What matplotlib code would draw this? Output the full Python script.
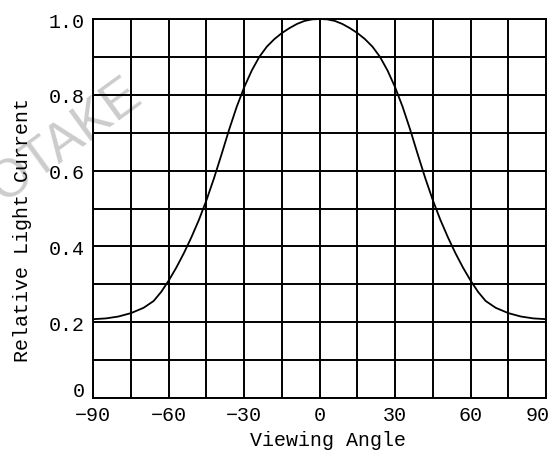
import numpy as np
import matplotlib.pyplot as plt
import matplotlib.transforms as mtransforms

# Curva de corriente relativa vs ángulo
angulo = [-90, -85, -80, -75, -70, -66, -63, -60, -57, -54, -51, -48, -45, -42,
          -39, -36, -33, -30, -27, -24, -21, -18, -15, -12, -9, -6, -3, 0,
          3, 6, 9, 12, 15, 18, 21, 24, 27, 30, 33, 36, 39, 42, 45, 48, 51,
          54, 57, 60, 63, 66, 70, 75, 80, 85, 90]
corriente = [0.208, 0.210, 0.215, 0.224, 0.238, 0.256, 0.280, 0.310, 0.344, 0.382,
             0.424, 0.470, 0.522, 0.580, 0.643, 0.708, 0.768, 0.820, 0.864, 0.900,
             0.927, 0.947, 0.963, 0.976, 0.987, 0.995, 0.999, 1.000,
             0.999, 0.995, 0.987, 0.976, 0.963, 0.947, 0.927, 0.900, 0.864, 0.820,
             0.768, 0.708, 0.643, 0.580, 0.522, 0.470, 0.424, 0.382, 0.344, 0.310,
             0.280, 0.256, 0.238, 0.224, 0.215, 0.210, 0.208]

xticks = [-90, -60, -30, 0, 30, 60, 90]
xlabels = ["\u221290", "\u221260", "\u221230", "0", "30", "60", "90"]
yticks = [0, 0.2, 0.4, 0.6, 0.8, 1.0]
ylabels = ["0", "0.2", "0.4", "0.6", "0.8", "1.0"]

fuente = "Liberation Mono"
tam = 14.4

fig = plt.figure(figsize=(5.57, 4.56), dpi=100)
ax = fig.add_axes([93.3 / 557, 1 - 399 / 456, (546 - 93.3) / 557, (399 - 20) / 456])
ax.patch.set_visible(False)

# marca de agua
fig.text(66 / 557, 1 - 141 / 456, "OTAKE", fontsize=38, color="#cccccc", rotation=36,
         ha="center", va="center", family="Liberation Sans", zorder=-5)

ax.plot(angulo, corriente, color="black", lw=1.3, zorder=3)

ax.set_xlim(-90, 90)
ax.set_ylim(0, 1.0)
ax.set_xticks(np.arange(-90, 91, 15), minor=True)
ax.set_yticks(np.arange(0, 1.01, 0.1), minor=True)
ax.set_xticks(xticks)
ax.set_xticklabels(xlabels, family=fuente, fontsize=tam)
ax.set_yticks(yticks)
ax.set_yticklabels(ylabels, family=fuente, fontsize=tam)
ax.tick_params(which="both", length=0)
ax.tick_params(axis="x", pad=5)
ax.tick_params(axis="y", pad=6)
ax.grid(True, which="both", color="black", lw=1.4)
for s in ax.spines.values():
    s.set_linewidth(1.4)

# correr la etiqueta 90 hacia la izquierda y el 0 del eje y hacia arriba
lbl = ax.get_xticklabels()[-1]
lbl.set_transform(lbl.get_transform() + mtransforms.ScaledTranslation(-8 / 100, 0, fig.dpi_scale_trans))
lbl0 = ax.get_yticklabels()[0]
lbl0.set_transform(lbl0.get_transform() + mtransforms.ScaledTranslation(0, 9 / 100, fig.dpi_scale_trans))

fig.text(328 / 557, 1 - 441 / 456, "Viewing Angle", family=fuente, fontsize=tam,
         ha="center", va="center")
fig.text(22.5 / 557, 1 - 230 / 456, "Relative Light Current", family=fuente, fontsize=tam,
         ha="center", va="center", rotation=90)

fig.savefig("out.png", dpi=100)
